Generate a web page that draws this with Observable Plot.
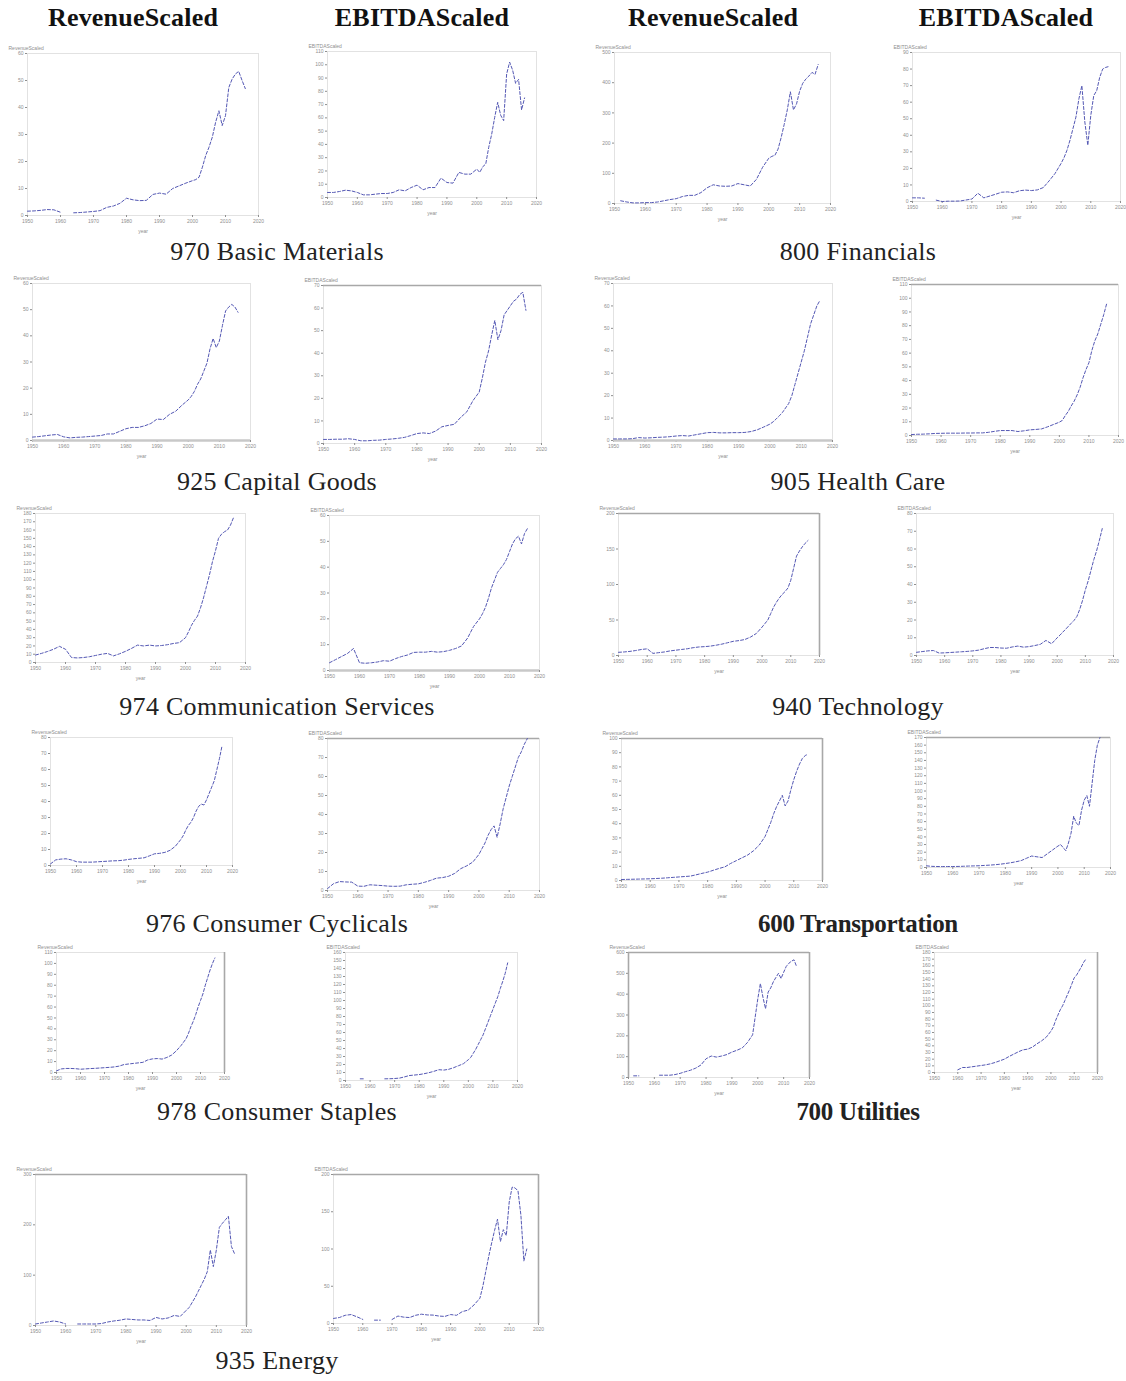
<!DOCTYPE html>
<html><head><meta charset="utf-8">
<script src="https://cdn.jsdelivr.net/npm/d3@7"></script>
<script src="https://cdn.jsdelivr.net/npm/@observablehq/plot@0.6"></script>
<style>
html,body{margin:0;padding:0;background:#fff;}
#root{position:relative;width:1126px;height:1381px;overflow:hidden;background:#fff;}
.hdr{position:absolute;width:300px;text-align:center;font-family:"Liberation Serif","Times New Roman",serif;font-weight:bold;font-size:26px;letter-spacing:0.2px;line-height:26px;color:#111;}
.lbl{position:absolute;width:440px;text-align:center;font-family:"Liberation Serif","Times New Roman",serif;font-size:26px;letter-spacing:0.3px;line-height:26px;color:#222;}
.lbl.b{font-weight:bold;font-size:25px;letter-spacing:-0.3px;}
.panel{position:absolute;}
</style></head><body><div id="root"></div>
<script>
// ---------- data ----------
const years = [1950,1952,1954,1956,1958,1960,1962,1964,1966,1968,1970,1972,1974,1976,1978,1980,1982,1984,1986,1988,1990,1992,1994,1996,1998,
  2000,2001,2002,2003,2004,2005,2006,2007,2008,2009,2010,2011,2012,2013,2014,2015,2016];
const xTicks = [1950,1960,1970,1980,1990,2000,2010,2020];
const columnHeaders = ["RevenueScaled","EBITDAScaled","RevenueScaled","EBITDAScaled"];
const sectorLabels = ["970 Basic Materials","800 Financials","925 Capital Goods","905 Health Care","974 Communication Services","940 Technology",
  "976 Consumer Cyclicals","600 Transportation","978 Consumer Staples","700 Utilities","935 Energy"];

const bmRev = [1.6,1.7,1.9,2.2,2.1,1.2,null,1.0,1.1,1.3,1.5,1.8,3.0,3.5,4.5,6.4,5.8,5.5,5.6,7.8,8.3,7.9,10,11,12,
  12.9,13.3,14.2,17.9,22.2,25.3,29,34.5,38.8,33.3,37,47.4,50.5,52.4,53.4,50.1,47];
const bmEbitda = [3.8,3.8,4.5,5.5,5,3.8,2,2,2.5,3,3,3.8,5.8,5,7.5,9.3,5.8,7.5,7.5,14.6,11.3,10.8,18.9,17.6,17.6,
  21.4,18.9,23.2,25.2,37.8,47.8,60.4,71.7,62,57.9,93,102,96,86,89,66,75];
const finRev = [null,9,5,2,2,3,3,5,9,13,16,23,27,27,36,52,62,58,57,58,66,62,58,80,120,
  150,156,160,180,218,262,310,370,310,330,372,398,412,422,434,428,460];
const finEbitda = [2.2,2.2,2,null,0.8,0,0.2,0.2,0.3,0.9,1.5,5.0,2.2,3.3,4.4,5.6,5.8,5.3,6.5,6.9,6.6,7,8.4,12.5,17,
  23,26.5,31,37,44,51,62,70,48,34,52,64,67,75,80,81,81.5];
const cgRev = [1.3,1.5,1.8,2.1,2.3,1.4,1.0,1.2,1.3,1.5,1.7,1.9,2.5,2.5,3.5,4.5,5.0,5.0,5.6,6.5,8.2,8,10,11.2,13.5,
  15.5,16.9,18.8,21.5,23.5,26.5,29.5,35,39,35.5,38,44,49.5,51,52,51,49];
const cgEbitda = [1.8,1.8,1.9,1.9,2.1,1.8,1.2,1.2,1.4,1.5,1.8,2.0,2.3,2.7,3.5,4.4,4.7,4.4,5.5,7.4,8.0,8.5,11.5,14,19,
  22.8,29,36,41,48,54.5,46,50,57,59,61,63,64,66,67,59,null];
const hcRev = [0.7,0.7,0.7,0.8,1.3,1.1,1.2,1.4,1.5,1.7,2.0,2.2,2.0,2.5,3.0,3.5,3.6,3.4,3.4,3.5,3.5,3.6,4.0,4.8,6.0,
  7.3,8.3,9.6,11,12.5,14.5,16.5,20,25,30,35,40,46,52,56,60,62.5];
const hcEbitda = [0.7,0.9,1.0,1.2,1.5,1.6,1.7,1.7,1.7,1.8,1.8,1.9,1.9,2.3,3.0,3.6,3.6,3.6,2.9,3.4,4.1,4.4,4.8,6.3,8,
  9.7,11,14.5,17.5,21.5,25,29.5,35,42,48,53,62,69,74,81,88,96];
const csRev = [9,11,13.3,16,19.5,16,6,5.5,6,7,8.5,10,11,8,10.5,13.5,17,21,20,21,20,20.5,21.5,23,24,
  30,37,45,51,56,66,78,92,106,122,135,150,155,158,160,166,175];
const csEbitda = [3,4.2,5.4,6.6,8.5,3.0,2.8,3.0,3.3,3.8,3.6,4.6,5.4,6.0,7.0,7.1,7.1,7.4,7.1,7.3,7.8,8.5,9.5,12.5,17,
  20,22,24.5,28,32,35,38,39.5,41,43,46,49,51,52,49,53,55];
const techRev = [4.5,5,5.8,7,8.5,9.4,3,4,5,6.5,7.5,8.5,9.5,11,12,12.5,13.2,14.5,16,18,20,21,22.5,26,31,
  40,45,50,59,68,75,81,86,90,95,106,123,140,147,153,158,162];
const techEbitda = [1.8,2.2,2.6,2.8,1.4,1.5,1.7,1.9,2.1,2.3,2.6,3.0,3.8,4.5,4.5,4.2,4.1,4.8,5.3,4.7,5,5.6,6.3,8.5,6.6,
  10,11.5,13.2,14.8,16.5,18.2,19.8,22,26,31,37,42,48,54,59,65,71.5];
const ccRev = [1,3.5,4,4.2,3.5,2.4,2.1,2.1,2.1,2.3,2.5,2.7,2.9,3.0,3.3,3.8,4.2,4.5,4.8,6,7.3,7.6,8.2,9.5,12,
  16,18.5,22,25,27,30,34,37,38.4,37.8,41,45,49,53,60,67,75];
const ccEbitda = [1,3.6,4.7,4.5,4.4,2.3,2.2,3.0,2.8,2.6,2.3,2.2,2.3,3.0,3.3,3.5,4.3,5.3,6.5,6.8,7.5,9,11.5,13,15,
  19,22,25,29,32,34,28,35,43,49,55,60,65,70,73,77,80];
const trRev = [0.7,0.8,0.9,1.0,1.1,1.2,1.4,1.6,1.9,2.2,2.5,2.8,3.1,4,5,5.9,7.2,8.5,9.6,12,14,16,18,21,25,
  31,36,41,47,52,56,60,52.5,56,64,71,77,82,86,88,89,null];
const trEbitda = [2.2,1.5,1.3,1.2,1.3,1.3,1.4,1.6,1.9,2.1,2.3,2.7,3.1,3.6,4.3,5.2,6.2,7.5,9,12,15,14,13,18,23,
  28,30,26,22,32,45,67,58,55,75,88,94,80,110,140,160,170];
const stRev = [1.5,3.3,3.7,3.7,3.5,3.0,3.3,3.6,3.8,4.1,4.4,4.7,5.1,5.8,7.2,7.8,8.3,8.8,9.3,11.5,12.5,12.8,12.3,13.8,16,
  20,22.5,25,28,31,36,42,47,53,60,66,72,80,87,94,100,105];
const stEbitda = [null,null,null,2.1,2.1,null,null,null,2.1,2.2,2.5,3,4.5,6.2,6.8,7.4,8.5,9.8,11.5,13.5,13,14,16,18.5,21,
  26,29,34,39,45,51,57,65,73,81,89,97,105,115,124,134,147];
const utRev = [null,8,8,null,null,null,11,11,11,14,20,28,35,45,60,90,103,98,103,110,122,131,142,168,205,
  377,451,385,330,410,430,459,480,500,475,505,533,548,558,565,533,null];
const utEbitda = [null,null,null,null,null,4,7.5,7.5,8.5,9.5,10.5,11.5,13,15,17.5,20,24,27.5,31,34,35,38,43,47.5,53,
  62,68,78,86,94,100,108,116,124,133,142,146,152,158,165,170,null];
const enRev = [3,5,7,9,7,3,null,3,3,3,3,4,7,9,10.5,13,12,11,11,10,16,13,15,20,18,
  30,36,46,56,68,80,92,107,150,117,150,195,203,210,217,157,143];
const enEbitda = [6.8,8,11,12,9,5.5,null,4.5,4.5,null,5.4,10,8.5,8,11,12.5,11.5,11.3,10,9.5,12,11,16,18,25,
  34,50,70,90,108,125,140,110,126,118,163,183,182,178,145,84,100];

// y tick values per panel
const tBmRev = [0,10,20,30,40,50,60];
const tBmEbitda = [0,10,20,30,40,50,60,70,80,90,100,110];
const tFinRev = [0,100,200,300,400,500];
const tFinEbitda = [0,10,20,30,40,50,60,70,80,90];
const tCgRev = [0,10,20,30,40,50,60];
const tCgEbitda = [0,10,20,30,40,50,60,70];
const tHcRev = [0,10,20,30,40,50,60,70];
const tHcEbitda = [0,10,20,30,40,50,60,70,80,90,100,110];
const tCsRev = [0,10,20,30,40,50,60,70,80,90,100,110,120,130,140,150,160,170,180];
const tCsEbitda = [0,10,20,30,40,50,60];
const tTechRev = [0,50,100,150,200];
const tTechEbitda = [0,10,20,30,40,50,60,70,80];
const tCcRev = [0,10,20,30,40,50,60,70,80];
const tCcEbitda = [0,10,20,30,40,50,60,70,80];
const tTrRev = [0,10,20,30,40,50,60,70,80,90,100];
const tTrEbitda = [0,10,20,30,40,50,60,70,80,90,100,110,120,130,140,150,160,170];
const tStRev = [0,10,20,30,40,50,60,70,80,90,100,110];
const tStEbitda = [0,10,20,30,40,50,60,70,80,90,100,110,120,130,140,150,160];
const tUtRev = [0,100,200,300,400,500,600];
const tUtEbitda = [0,10,20,30,40,50,60,70,80,90,100,110,120,130,140,150,160,170,180];
const tEnRev = [0,100,200,300];
const tEnEbitda = [0,50,100,150,200];

// ---------- layout (frame boxes in page px: left, top, right, bottom) ----------
const panels = [
  {v:bmRev, t:tBmRev, lab:columnHeaders[0], box:[27,53,258,215], edges:[]},
  {v:bmEbitda, t:tBmEbitda, lab:columnHeaders[1], box:[327,51,536,197], edges:[]},
  {v:finRev, t:tFinRev, lab:columnHeaders[2], box:[614,52,830,203], edges:[]},
  {v:finEbitda, t:tFinEbitda, lab:columnHeaders[3], box:[912,52,1120,201], edges:[]},
  {v:cgRev, t:tCgRev, lab:columnHeaders[0], box:[32,283,250,440], edges:["bottom"]},
  {v:cgEbitda, t:tCgEbitda, lab:columnHeaders[1], box:[323,285,541,443], edges:["top"]},
  {v:hcRev, t:tHcRev, lab:columnHeaders[2], box:[613,283,832,440], edges:["bottom"]},
  {v:hcEbitda, t:tHcEbitda, lab:columnHeaders[3], box:[911,284,1118,435], edges:["top"]},
  {v:csRev, t:tCsRev, lab:columnHeaders[0], box:[35,513,245,662], edges:[]},
  {v:csEbitda, t:tCsEbitda, lab:columnHeaders[1], box:[329,515,539,670], edges:["bottom"]},
  {v:techRev, t:tTechRev, lab:columnHeaders[2], box:[618,513,819,655], edges:["top","right"]},
  {v:techEbitda, t:tTechEbitda, lab:columnHeaders[3], box:[916,513,1113,655], edges:[]},
  {v:ccRev, t:tCcRev, lab:columnHeaders[0], box:[50,737,232,865], edges:[]},
  {v:ccEbitda, t:tCcEbitda, lab:columnHeaders[1], box:[327,738,539,890], edges:["top"]},
  {v:trRev, t:tTrRev, lab:columnHeaders[2], box:[621,738,822,880], edges:["top","right"]},
  {v:trEbitda, t:tTrEbitda, lab:columnHeaders[3], box:[926,737,1110,867], edges:["top"]},
  {v:stRev, t:tStRev, lab:columnHeaders[0], box:[56,952,224,1072], edges:["right"]},
  {v:stEbitda, t:tStEbitda, lab:columnHeaders[1], box:[345,952,517,1080], edges:[]},
  {v:utRev, t:tUtRev, lab:columnHeaders[2], box:[628,952,809,1077], edges:["top","right","left"]},
  {v:utEbitda, t:tUtEbitda, lab:columnHeaders[3], box:[934,952,1097,1072], edges:["right"]},
  {v:enRev, t:tEnRev, lab:columnHeaders[0], box:[35,1174,246,1325], edges:["top","right"]},
  {v:enEbitda, t:tEnEbitda, lab:columnHeaders[1], box:[333,1174,538,1323], edges:["top","right"]}
];
const headerX = [133,422,713,1006], headerY = 18;
const labelPos = [[277,253],[858,253],[277,483],[858,483],[277,708],[858,708],[277,925],[858,925],[277,1113],[858,1113],[277,1362]];
const boldLabels = new Set(["600 Transportation","700 Utilities"]);

const root = document.getElementById("root");
columnHeaders.forEach((h,i)=>{
  const d=document.createElement("div"); d.className="hdr"; d.textContent=h;
  d.style.left=(headerX[i]-150)+"px"; d.style.top=(headerY-13)+"px"; root.appendChild(d);
});
sectorLabels.forEach((s,i)=>{
  const d=document.createElement("div"); d.className="lbl"+(boldLabels.has(s)?" b":""); d.textContent=s;
  d.style.left=(labelPos[i][0]-220)+"px"; d.style.top=(labelPos[i][1]-14)+"px"; root.appendChild(d);
});

const mL=22,mT=10,mR=5,mB=20;
panels.forEach(p=>{
  const [l,t,r,b]=p.box;
  const yMax=p.t[p.t.length-1];
  const data=years.map((yr,i)=>({year:yr,value:p.v[i]}));
  const edge={stroke:"#a8a8a8",strokeWidth:1.6};
  const marks=[
    Plot.frame({stroke:"#e2e2e2"}),
    Plot.axisY({ticks:p.t,tickSize:2,tickPadding:2,label:p.lab,labelAnchor:"top",labelArrow:false,color:"#8f8f8f",tickFormat:d=>String(d)}),
    Plot.axisX({ticks:xTicks,tickSize:2,tickPadding:2,label:"year",labelAnchor:"center",labelArrow:false,color:"#8f8f8f",tickFormat:d=>String(d)})
  ];
  if(p.edges.includes("top")) marks.push(Plot.ruleY([yMax],edge));
  if(p.edges.includes("bottom")) marks.push(Plot.ruleY([0],{stroke:"#c8c8c8",strokeWidth:2.5}));
  if(p.edges.includes("right")) marks.push(Plot.ruleX([2020],edge));
  if(p.edges.includes("left")) marks.push(Plot.ruleX([1950],edge));
  marks.push(Plot.line(data,{x:"year",y:"value",stroke:"#5458b4",strokeWidth:1,strokeDasharray:"3,2"}));
  const svg=Plot.plot({
    width:(r-l)+mL+mR, height:(b-t)+mT+mB,
    marginLeft:mL, marginTop:mT, marginRight:mR, marginBottom:mB,
    x:{domain:[1950,2020]}, y:{domain:[0,yMax]},
    style:{fontSize:"5px",fontFamily:"Liberation Sans, Arial, sans-serif",background:"transparent",overflow:"visible"},
    marks
  });
  const wrap=document.createElement("div"); wrap.className="panel";
  wrap.style.left=(l-mL)+"px"; wrap.style.top=(t-mT)+"px";
  wrap.appendChild(svg); root.appendChild(wrap);
});
</script></body></html>
